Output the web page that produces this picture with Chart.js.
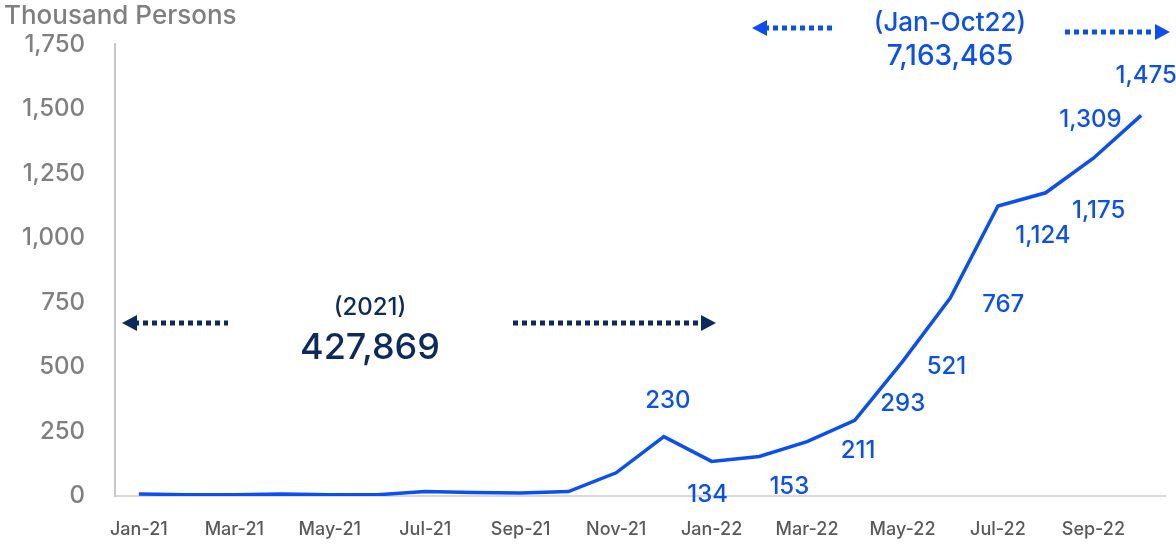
<!DOCTYPE html>
<html lang="en">
<head>
<meta charset="UTF-8">
<title>Thousand Persons</title>
<script src="https://cdn.jsdelivr.net/npm/chart.js"></script>
<style>
    body { margin: 0; background: #fff; }
    .wrap { width: 1176px; height: 544px; position: relative; }
</style>
</head>
<body>
<div class="wrap"><canvas id="chart"></canvas></div>
<script>
// months Jan-21 .. Oct-22
const months = ['Jan-21','Feb-21','Mar-21','Apr-21','May-21','Jun-21','Jul-21','Aug-21','Sep-21','Oct-21','Nov-21','Dec-21',
                'Jan-22','Feb-22','Mar-22','Apr-22','May-22','Jun-22','Jul-22','Aug-22','Sep-22','Oct-22'];
// thousand persons per month
const persons = [8, 5, 5, 8, 5, 5, 17, 14, 12, 17, 90, 230,
                 134, 153, 211, 293, 521, 767, 1124, 1175, 1309, 1475];
// which points get a value label
const labelled = [11, 12, 13, 14, 15, 16, 17, 18, 19, 20, 21];
const yTicks = [0, 250, 500, 750, 1000, 1250, 1500, 1750];
const total2021 = '427,869';
const total2022 = '7,163,465';

// label offsets from the point (px)
const labelOffsets = {
    11: [4, -36], 12: [-4, 33], 13: [30, 30], 14: [51, 9], 15: [48, -17],
    16: [44, 5], 17: [53, 7], 18: [45, 30], 19: [53, 18], 20: [-3, -38], 21: [5, -40]
};

const BLUE = '#0a50f0';
const NAVY = '#0d2a5e';
const FONT = 'Inter, sans-serif';

function arrow(ctx, x1, x2, y, color, headLeft, headRight) {
    ctx.save();
    ctx.strokeStyle = color;
    ctx.fillStyle = color;
    ctx.lineWidth = 5;
    ctx.setLineDash([5, 4]);
    ctx.beginPath();
    ctx.moveTo(headLeft ? x1 + 12 : x1, y);
    ctx.lineTo(headRight ? x2 - 12 : x2, y);
    ctx.stroke();
    ctx.setLineDash([]);
    if (headLeft) {
        ctx.beginPath();
        ctx.moveTo(x1, y); ctx.lineTo(x1 + 15, y - 8); ctx.lineTo(x1 + 15, y + 8);
        ctx.closePath(); ctx.fill();
    }
    if (headRight) {
        ctx.beginPath();
        ctx.moveTo(x2, y); ctx.lineTo(x2 - 15, y - 8); ctx.lineTo(x2 - 15, y + 8);
        ctx.closePath(); ctx.fill();
    }
    ctx.restore();
}

const extras = {
    id: 'extras',
    afterDatasetsDraw(chart) {
        const ctx = chart.ctx;
        const meta = chart.getDatasetMeta(0);
        ctx.save();
        ctx.textAlign = 'center';
        ctx.textBaseline = 'middle';
        // value labels
        ctx.fillStyle = BLUE;
        ctx.font = '500 24px ' + FONT;
        labelled.forEach(i => {
            const p = meta.data[i];
            const o = labelOffsets[i] || [0, -30];
            ctx.fillText(persons[i].toLocaleString('en-US'), p.x + o[0], p.y + o[1]);
        });
        // axis title
        ctx.textAlign = 'left';
        ctx.fillStyle = '#7f7f7f';
        ctx.font = '500 26px ' + FONT;
        ctx.fillText('Thousand Persons', 4, 16);

        // 2021 block
        ctx.textAlign = 'center';
        ctx.fillStyle = NAVY;
        ctx.font = '500 24px ' + FONT;
        ctx.fillText('(2021)', 370, 308);
        ctx.font = '500 36px ' + FONT;
        ctx.fillText(total2021, 370, 348);
        arrow(ctx, 122, 228, 323, NAVY, true, false);
        arrow(ctx, 513, 716, 323, NAVY, false, true);

        // 2022 block
        ctx.fillStyle = BLUE;
        ctx.font = '500 26px ' + FONT;
        ctx.fillText('(Jan-Oct22)', 950, 23);
        ctx.font = '500 28px ' + FONT;
        ctx.fillText(total2022, 950, 57);
        arrow(ctx, 752, 836, 28, BLUE, true, false);
        arrow(ctx, 1065, 1170, 32, BLUE, false, true);
        ctx.restore();
    }
};

new Chart(document.getElementById('chart'), {
    type: 'line',
    data: {
        labels: months,
        datasets: [{
            data: persons,
            borderColor: BLUE,
            borderWidth: 3.5,
            pointRadius: 0,
            tension: 0,
            fill: false
        }]
    },
    options: {
        responsive: true,
        maintainAspectRatio: false,
        animation: false,
        layout: { padding: { top: 40, right: 11, left: 0, bottom: 0 } },
        plugins: { legend: { display: false }, tooltip: { enabled: false } },
        scales: {
            x: {
                offset: true,
                grid: { display: false, drawTicks: false },
                border: { color: '#d9d9d9', width: 2 },
                afterFit(s) { s.height = 48; },
                ticks: {
                    autoSkip: false,
                    maxRotation: 0,
                    padding: 23,
                    color: '#595959',
                    font: { family: FONT, size: 18, weight: '500' },
                    callback: (v, i) => i % 2 === 0 ? months[i] : ''
                }
            },
            y: {
                min: 0,
                max: 1750,
                afterFit(s) { s.width = 115; },
                afterBuildTicks(s) { s.ticks = yTicks.map(v => ({ value: v })); },
                grid: { display: false, drawTicks: false },
                border: { color: '#c8c8c8', width: 2 },
                ticks: {
                    padding: 30,
                    color: '#7f7f7f',
                    font: { family: FONT, size: 24, weight: '500' },
                    callback: v => v.toLocaleString('en-US')
                }
            }
        }
    },
    plugins: [extras]
});
</script>
</body>
</html>
